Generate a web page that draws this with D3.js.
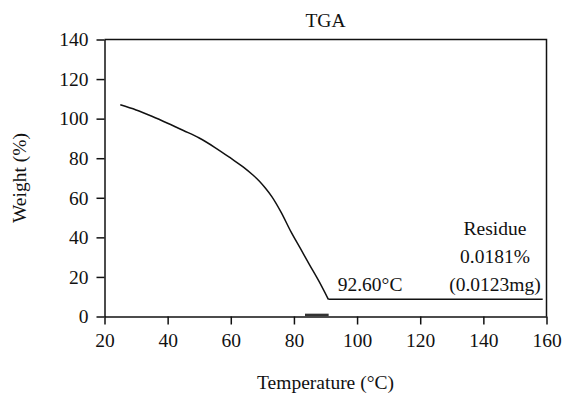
<!DOCTYPE html>
<html>
<head>
<meta charset="utf-8">
<script src="https://cdn.jsdelivr.net/npm/d3@7"></script>
<style>
  html, body { margin: 0; padding: 0; background: #fff; }
  svg text { font-family: "Liberation Serif", "DejaVu Serif", serif; fill: #111; }
</style>
</head>
<body>
<div id="chart"></div>
<script>
// TGA curve
const tempDecline = [25, 30, 35, 40, 45, 50, 55, 60, 64, 67, 69, 71, 73, 76, 79, 82, 85, 88, 90.9];
const weightDecline = [107, 104.4, 101.2, 97.7, 94, 90.2, 85.4, 80, 75.5, 71.5, 68.5, 64.8, 60.6, 52.5, 43, 34.5, 26, 17.6, 8.7];
const tempResidue = [90.9, 158.8];
const weightResidue = [8.7, 8.7];
const tempBar = [83.5, 91];
const weightBar = [0.8, 0.8];

const xTicks = [20, 40, 60, 80, 100, 120, 140, 160];
const yTicks = [0, 20, 40, 60, 80, 100, 120, 140];

const width = 564;
const height = 395;
const margin = { top: 39.5, right: 17.5, bottom: 78.5, left: 104.5 };
const fontSize = 19.5;

const svg = d3.select("#chart")
  .append("svg")
  .attr("width", width)
  .attr("height", height);

const x = d3.scaleLinear().domain([20, 160]).range([margin.left, width - margin.right]);
const y = d3.scaleLinear().domain([0, 140]).range([height - margin.bottom, margin.top]);

// frame (top and right edges)
svg.append("path")
  .attr("d", `M${x(20)},${y(140)}H${x(160)}V${y(0)}`)
  .attr("fill", "none")
  .attr("stroke", "#111")
  .attr("stroke-width", 1.5);

// x axis
const xAxis = svg.append("g")
  .attr("transform", `translate(0,${y(0)})`)
  .call(d3.axisBottom(x).tickValues(xTicks).tickSize(8).tickPadding(9).tickSizeOuter(0));

// y axis
const yAxis = svg.append("g")
  .attr("transform", `translate(${x(20)},0)`)
  .call(d3.axisLeft(y).tickValues(yTicks).tickSize(8).tickPadding(8).tickSizeOuter(0));

[xAxis, yAxis].forEach((g) => {
  g.selectAll("path, line").attr("stroke", "#111").attr("stroke-width", 1.5);
  g.selectAll("text")
    .attr("font-family", "Liberation Serif, DejaVu Serif, serif")
    .attr("font-size", fontSize)
    .attr("fill", "#111");
});

const line = d3.line()
  .x((d) => x(d[0]))
  .y((d) => y(d[1]));

// decline part of the curve
svg.append("path")
  .datum(d3.zip(tempDecline, weightDecline))
  .attr("fill", "none")
  .attr("stroke", "#111")
  .attr("stroke-width", 1.5)
  .attr("d", line.curve(d3.curveMonotoneX));

// residue plateau
svg.append("path")
  .datum(d3.zip(tempResidue, weightResidue))
  .attr("fill", "none")
  .attr("stroke", "#111")
  .attr("stroke-width", 1.5)
  .attr("d", line.curve(d3.curveLinear));

// small dark segment sitting on the axis
svg.append("path")
  .datum(d3.zip(tempBar, weightBar))
  .attr("fill", "none")
  .attr("stroke", "#333")
  .attr("stroke-width", 2.5)
  .attr("d", line.curve(d3.curveLinear));

// titles
svg.append("text")
  .attr("x", x(90))
  .attr("y", 27)
  .attr("text-anchor", "middle")
  .attr("font-size", fontSize)
  .text("TGA");

svg.append("text")
  .attr("x", x(90))
  .attr("y", 389)
  .attr("text-anchor", "middle")
  .attr("font-size", fontSize)
  .text("Temperature (°C)");

svg.append("text")
  .attr("transform", `translate(26,${y(70)}) rotate(-90)`)
  .attr("text-anchor", "middle")
  .attr("font-size", fontSize)
  .text("Weight (%)");

// annotations
svg.append("text")
  .attr("x", x(92.6) + 4)
  .attr("y", 291)
  .attr("font-size", fontSize)
  .text("92.60°C");

const residueNotes = ["Residue", "0.0181%", "(0.0123mg)"];
svg.selectAll(".note")
  .data(residueNotes)
  .enter()
  .append("text")
  .attr("class", "note")
  .attr("x", 495)
  .attr("y", (d, i) => 235 + i * 28)
  .attr("text-anchor", "middle")
  .attr("font-size", fontSize)
  .text((d) => d);
</script>
</body>
</html>
